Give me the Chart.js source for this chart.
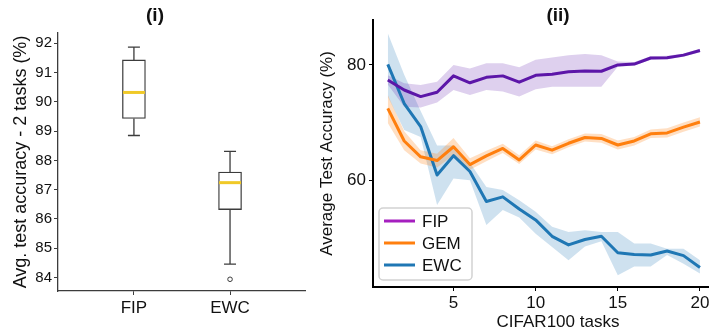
<!DOCTYPE html>
<html lang="en">
<head>
  <meta charset="UTF-8">
  <title>Continual learning accuracy</title>
  <script src="https://cdn.jsdelivr.net/npm/chart.js@4.4.1/dist/chart.umd.min.js"></script>
  <style>
    html, body {
      margin: 0;
      padding: 0;
      background-color: #ffffff;
      overflow: hidden;
    }

    body {
      position: relative;
      width: 709px;
      height: 335px;
    }

    #boxPanel {
      position: absolute;
      left: 0;
      top: 0;
    }

    #linePanel {
      position: absolute;
      left: 310px;
      top: 0;
    }
  </style>
</head>
<body>
  <canvas id="boxPanel" width="310" height="335"></canvas>
  <canvas id="linePanel" width="440" height="335"></canvas>

  <script>
    // (i) accuracy after 2 tasks, box summary per method
    const boxLabels = ['FIP', 'EWC'];
    const boxMin = [88.85, 84.46];
    const boxQ1 = [89.43, 86.32];
    const boxMedian = [90.32, 87.24];
    const boxQ3 = [91.43, 87.60];
    const boxMax = [91.87, 88.31];
    const boxOutliers = [[], [83.94]];
    const boxTicks = [84, 85, 86, 87, 88, 89, 90, 91, 92];

    // (ii) average test accuracy over CIFAR100 tasks
    const tasks = [1, 2, 3, 4, 5, 6, 7, 8, 9, 10, 11, 12, 13, 14, 15, 16, 17, 18, 19, 20];
    const seriesNames = ['FIP', 'GEM', 'EWC'];

    const fipMean = [77.4, 75.65, 74.5, 75.25, 78.1, 76.9, 77.85, 78.1, 77.0, 78.2, 78.4, 78.8, 78.95, 78.9, 80.0, 80.15, 81.2, 81.25, 81.7, 82.5];
    const fipLow = [76.6, 72.75, 72.6, 73.5, 75.65, 74.8, 75.65, 75.4, 74.5, 75.8, 76.2, 76.2, 76.2, 76.2, 79.7, 79.9, 80.9, 81.0, 81.4, 82.2];
    const fipHigh = [78.2, 76.8, 76.5, 77.1, 80.0, 79.4, 80.3, 80.3, 79.6, 80.9, 81.3, 81.7, 81.9, 81.7, 80.6, 80.5, 81.5, 81.6, 82.0, 82.8];

    const gemMean = [72.45, 66.8, 64.05, 63.4, 65.8, 62.7, 64.2, 65.5, 63.5, 66.1, 65.2, 66.4, 67.4, 67.25, 66.1, 66.8, 68.05, 68.2, 69.2, 70.1];
    const gemLow = [69.9, 65.2, 62.9, 62.2, 64.3, 61.8, 63.3, 64.7, 62.8, 65.3, 64.5, 65.7, 66.7, 66.5, 65.3, 66.0, 67.3, 67.4, 68.4, 69.3];
    const gemHigh = [74.8, 68.5, 65.2, 64.6, 67.3, 63.8, 65.1, 66.3, 64.3, 66.9, 65.9, 67.1, 68.1, 68.0, 66.9, 67.5, 68.8, 69.0, 70.0, 70.9];

    const ewcMean = [80.1, 73.3, 69.3, 60.9, 64.25, 61.5, 56.3, 57.1, 55.0, 53.1, 50.25, 48.75, 49.7, 50.25, 47.4, 47.1, 47.0, 47.7, 46.9, 44.85];
    const ewcLow = [74.5, 68.7, 67.5, 55.7, 60.3, 60.0, 52.2, 54.8, 53.5, 50.7, 48.4, 46.1, 48.5, 49.4, 43.5, 45.0, 45.0, 47.0, 45.5, 43.8];
    const ewcHigh = [85.5, 78.3, 72.0, 66.0, 66.0, 63.0, 58.8, 58.3, 56.5, 54.5, 51.9, 51.0, 51.3, 51.0, 51.0, 49.0, 49.0, 48.1, 48.1, 46.1];

    const lineTicksX = [5, 10, 15, 20];
    const lineTicksY = [60, 80];

    const lineColors = ['#5c16a8', '#ff7f0e', '#1f77b4'];
    const bandColors = ['rgba(92, 22, 168, 0.2)', 'rgba(255, 127, 14, 0.25)', 'rgba(31, 119, 180, 0.22)'];
    const legendColors = ['#a51fbf', '#ff7f0e', '#1f77b4'];

    Chart.defaults.font.family = '"Liberation Sans", Arial, sans-serif';
    Chart.defaults.color = '#111';

    const pts = (vals) => tasks.map((t, i) => ({ x: t, y: vals[i] }));

    // bold panel caption, centred on the canvas or on the plot area
    const panelTitle = {
      id: 'panelTitle',
      afterDraw(chart, args, opts) {
        const { ctx, chartArea } = chart;
        const cx = opts.x !== undefined ? opts.x : (chartArea.left + chartArea.right) / 2;
        ctx.save();
        ctx.font = 'bold 19px "Liberation Sans", Arial, sans-serif';
        ctx.fillStyle = '#111';
        ctx.textAlign = 'center';
        ctx.textBaseline = 'middle';
        ctx.fillText(opts.text, cx, opts.y);
        ctx.restore();
      }
    };

    // whiskers, caps and medians on top of the floating-bar boxes
    const boxWhiskers = {
      id: 'boxWhiskers',
      afterDatasetsDraw(chart) {
        const { ctx, scales: { x, y } } = chart;
        ctx.save();
        boxLabels.forEach((_, i) => {
          const cx = x.getPixelForValue(i + 1);
          ctx.strokeStyle = '#3c3c3c';
          ctx.lineWidth = 1.3;
          ctx.beginPath();
          ctx.moveTo(cx, y.getPixelForValue(boxQ3[i]));
          ctx.lineTo(cx, y.getPixelForValue(boxMax[i]));
          ctx.moveTo(cx, y.getPixelForValue(boxQ1[i]));
          ctx.lineTo(cx, y.getPixelForValue(boxMin[i]));
          ctx.moveTo(cx - 6, y.getPixelForValue(boxMax[i]));
          ctx.lineTo(cx + 6, y.getPixelForValue(boxMax[i]));
          ctx.moveTo(cx - 6, y.getPixelForValue(boxMin[i]));
          ctx.lineTo(cx + 6, y.getPixelForValue(boxMin[i]));
          ctx.stroke();

          ctx.strokeStyle = '#f0c928';
          ctx.lineWidth = 3;
          ctx.beginPath();
          ctx.moveTo(cx - 11, y.getPixelForValue(boxMedian[i]));
          ctx.lineTo(cx + 11, y.getPixelForValue(boxMedian[i]));
          ctx.stroke();
        });
        ctx.restore();
      }
    };

    // legend box in the lower-left corner of the plot area
    const insetLegend = {
      id: 'insetLegend',
      afterDraw(chart) {
        const { ctx, chartArea } = chart;
        const x0 = chartArea.left + 6;
        const y0 = chartArea.bottom - 79;
        ctx.save();
        ctx.beginPath();
        ctx.roundRect(x0, y0, 93, 72, 4);
        ctx.fillStyle = 'rgba(255, 255, 255, 0.8)';
        ctx.fill();
        ctx.strokeStyle = '#d2d2d2';
        ctx.lineWidth = 1.5;
        ctx.stroke();

        ctx.font = '17px "Liberation Sans", Arial, sans-serif';
        ctx.textBaseline = 'middle';
        seriesNames.forEach((name, i) => {
          const ry = y0 + 13 + i * 22;
          ctx.strokeStyle = legendColors[i];
          ctx.lineWidth = 3;
          ctx.beginPath();
          ctx.moveTo(x0 + 5, ry);
          ctx.lineTo(x0 + 36, ry);
          ctx.stroke();
          ctx.fillStyle = '#111';
          ctx.fillText(name, x0 + 43, ry + 1);
        });
        ctx.restore();
      }
    };

    new Chart(document.getElementById('boxPanel'), {
      type: 'bar',
      data: {
        datasets: [{
          label: 'box',
          data: boxLabels.map((_, i) => ({ x: i + 1, y: [boxQ1[i], boxQ3[i]] })),
          backgroundColor: '#ffffff',
          borderColor: '#3c3c3c',
          borderWidth: 1.3,
          borderSkipped: false,
          barThickness: 23
        }, {
          type: 'scatter',
          label: 'outliers',
          data: boxOutliers.flatMap((vals, i) => vals.map(v => ({ x: i + 1, y: v }))),
          backgroundColor: '#ffffff',
          borderColor: '#3c3c3c',
          borderWidth: 1,
          pointRadius: 2.3
        }]
      },
      options: {
        responsive: false,
        animation: false,
        layout: { padding: { top: 33, right: 5, left: 0, bottom: 0 } },
        plugins: {
          legend: { display: false },
          tooltip: { enabled: false },
          panelTitle: { text: '(i)', x: 155, y: 16 }
        },
        scales: {
          x: {
            type: 'linear',
            offset: false,
            min: 0.21,
            max: 2.78,
            afterBuildTicks: (scale) => { scale.ticks = boxLabels.map((_, i) => ({ value: i + 1 })); },
            afterFit: (scale) => { scale.height = 44; },
            ticks: {
              callback: (v) => boxLabels[v - 1],
              font: { size: 17 },
              padding: 3,
              maxRotation: 0
            },
            grid: { offset: false, drawOnChartArea: false, tickLength: 4, color: '#3c3c3c' },
            border: { color: '#3c3c3c', width: 1.3 }
          },
          y: {
            min: 83.54,
            max: 92.35,
            afterBuildTicks: (scale) => { scale.ticks = boxTicks.map(v => ({ value: v })); },
            afterFit: (scale) => { scale.width = 58; },
            ticks: { font: { size: 15 }, padding: 2 },
            grid: { drawOnChartArea: false, tickLength: 4, color: '#3c3c3c' },
            border: { color: '#3c3c3c', width: 1.3 },
            title: {
              display: true,
              text: 'Avg. test accuracy - 2 tasks (%)',
              font: { size: 18 },
              padding: { top: 10 }
            }
          }
        }
      },
      plugins: [boxWhiskers, panelTitle]
    });

    const bands = [[fipHigh, fipLow], [gemHigh, gemLow], [ewcHigh, ewcLow]];
    const means = [fipMean, gemMean, ewcMean];
    const lineDatasets = [];

    bands.forEach(([hi, lo], i) => {
      lineDatasets.push({
        label: seriesNames[i] + ' upper',
        data: pts(hi),
        borderWidth: 0,
        borderColor: 'rgba(0,0,0,0)',
        backgroundColor: bandColors[i],
        pointRadius: 0,
        fill: '+1',
        order: 2
      }, {
        label: seriesNames[i] + ' lower',
        data: pts(lo),
        borderWidth: 0,
        borderColor: 'rgba(0,0,0,0)',
        pointRadius: 0,
        fill: false,
        order: 2
      });
    });

    means.forEach((vals, i) => {
      lineDatasets.push({
        label: seriesNames[i],
        data: pts(vals),
        borderColor: lineColors[i],
        borderWidth: 3,
        pointRadius: 0,
        fill: false,
        borderJoinStyle: 'round',
        order: 0
      });
    });

    new Chart(document.getElementById('linePanel'), {
      type: 'line',
      data: { datasets: lineDatasets },
      options: {
        responsive: false,
        animation: false,
        layout: { padding: { top: 20, right: 7, left: 0, bottom: 0 } },
        plugins: {
          legend: { display: false },
          tooltip: { enabled: false },
          panelTitle: { text: '(ii)', y: 16 }
        },
        scales: {
          x: {
            type: 'linear',
            min: 0.1,
            max: 22.62,
            afterBuildTicks: (scale) => { scale.ticks = lineTicksX.map(v => ({ value: v })); },
            afterFit: (scale) => { scale.height = 48; },
            ticks: { font: { size: 17 }, padding: 2, maxRotation: 0 },
            grid: { drawOnChartArea: false, tickLength: 4, color: '#000' },
            border: { color: '#000', width: 2 },
            title: {
              display: true,
              text: 'CIFAR100 tasks',
              font: { size: 17 },
              padding: { top: 0, bottom: 2 }
            }
          },
          y: {
            min: 41.45,
            max: 87.8,
            afterBuildTicks: (scale) => { scale.ticks = lineTicksY.map(v => ({ value: v })); },
            afterFit: (scale) => { scale.width = 63; },
            ticks: { font: { size: 17 }, padding: 3 },
            grid: { drawOnChartArea: false, tickLength: 4, color: '#000' },
            border: { color: '#000', width: 2 },
            title: {
              display: true,
              text: 'Average Test Accuracy (%)',
              font: { size: 17 },
              padding: { top: 7 }
            }
          }
        }
      },
      plugins: [insetLegend, panelTitle]
    });
  </script>
</body>
</html>
